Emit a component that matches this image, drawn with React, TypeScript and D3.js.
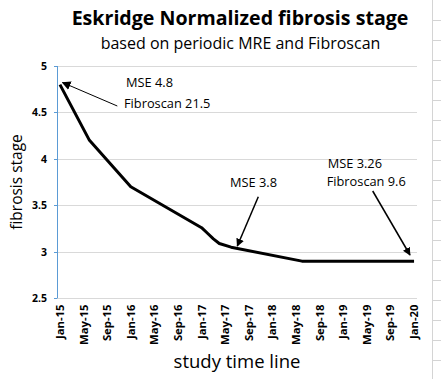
import React from "react";
import * as d3 from "d3";

const months = ["2015-01", "2015-06", "2016-01", "2017-01", "2017-02", "2017-03", "2017-04", "2017-06", "2018-06", "2020-01"];
const values = [4.8, 4.2, 3.7, 3.26, 3.2, 3.14, 3.09, 3.05, 2.9, 2.9];
const yTicks = [2.5, 3, 3.5, 4, 4.5, 5];
const xTickMonths = d3.range(0, 61, 4);

const title = "Eskridge Normalized fibrosis stage";
const subtitle = "based on periodic MRE and Fibroscan";
const yTitle = "fibrosis stage";
const xTitle = "study time line";

const W = 441, H = 379;
const FONT = "'Open Sans', Lato, sans-serif";

function monthIndex(s: string) {
  const [y, m] = s.split("-").map(Number);
  return (y - 2015) * 12 + (m - 1);
}

export default function App() {
  const plotL = 57, plotR = 417, plotT = 66, plotB = 298.3;
  const x = d3.scaleLinear().domain([-0.5, 60.5]).range([plotL, plotR]);
  const y = d3.scaleLinear().domain([2.5, 5]).range([plotB, plotT]);
  const pts = months.map((m, i) => [x(monthIndex(m)), y(values[i])] as [number, number]);
  const line = d3.line().curve(d3.curveLinear)(pts) || "";
  const fmt = d3.timeFormat("%b-%y");

  const gridY = d3.range(0, 18).map((k) => 20.5 + 20 * k);

  return (
    <svg width={W} height={H} style={{ position: "absolute", left: 0, top: 0, background: "#fff" }} fontFamily={FONT}>
      <defs>
        <marker id="ah2" viewBox="0 0 10 10" refX="9" refY="5" markerWidth="8" markerHeight="8" orient="auto" markerUnits="userSpaceOnUse">
          <path d="M0,0 L10,5 L0,10 z" fill="#000" />
        </marker>
        <marker id="ah1" viewBox="0 0 10 10" refX="9" refY="5" markerWidth="9" markerHeight="9" orient="auto" markerUnits="userSpaceOnUse">
          <path d="M0,0 L10,5 L0,10 z" fill="#000" />
        </marker>
      </defs>
      <rect width={W} height={H} fill="#fff" />
      {/* spreadsheet grid at right */}
      <line x1={432.5} x2={432.5} y1={0} y2={H} stroke="#d4d4d4" />
      {gridY.map((g) => (
        <line key={g} x1={432} x2={W} y1={g} y2={g} stroke="#d4d4d4" />
      ))}
      {/* titles */}
      <text x={240} y={25} textAnchor="middle" fontSize={19.6} fontWeight="bold" fill="#000">{title}</text>
      <text x={240.5} y={49.3} textAnchor="middle" fontSize={16} fill="#000">{subtitle}</text>
      {/* gridlines */}
      {yTicks.map((t) => (
        <line key={t} x1={plotL} x2={plotR} y1={Math.round(y(t)) + 0.5} y2={Math.round(y(t)) + 0.5} stroke="#d9d9d9" />
      ))}
      {/* y axis */}
      <line x1={plotL + 0.5} x2={plotL + 0.5} y1={plotT} y2={plotB} stroke="#5b9bd5" />
      {yTicks.map((t) => (
        <g key={t}>
          <line x1={plotL - 3} x2={plotL} y1={Math.round(y(t)) + 0.5} y2={Math.round(y(t)) + 0.5} stroke="#5b9bd5" />
          <text x={plotL - 10} y={y(t) + 4} textAnchor="end" fontSize={10.5} fontWeight="bold" fill="#000">{t}</text>
        </g>
      ))}
      {/* x tick labels */}
      {xTickMonths.map((m) => {
        const d = new Date(2015, m, 1);
        const tx = x(m) + 4;
        return (
          <text key={m} transform={`translate(${tx},${304.5}) rotate(-90)`} textAnchor="end" fontSize={11.3} fontWeight="bold" fill="#000">{fmt(d)}</text>
        );
      })}
      {/* axis titles */}
      <text transform={`translate(22,182) rotate(-90)`} textAnchor="middle" fontSize={15.5} fill="#000">{yTitle}</text>
      <text x={237} y={368} textAnchor="middle" fontSize={18.5} fill="#000">{xTitle}</text>
      {/* data line */}
      <path d={line} fill="none" stroke="#000" strokeWidth={3} strokeLinejoin="round" />
      {/* annotations */}
      <text x={126} y={87.3} fontSize={12.8} fill="#000">MSE 4.8</text>
      <text x={124} y={107.7} fontSize={12.8} fill="#000">Fibroscan 21.5</text>
      <line x1={117.3} y1={106} x2={62.5} y2={82.5} stroke="#000" strokeWidth={1} markerEnd="url(#ah1)" />
      <text x={230} y={187.3} fontSize={12.8} fill="#000">MSE 3.8</text>
      <line x1={258.3} y1={196.7} x2={237.3} y2={246} stroke="#000" strokeWidth={1.5} markerEnd="url(#ah2)" />
      <text x={327.7} y={168.3} fontSize={12.8} fill="#000">MSE 3.26</text>
      <text x={326.7} y={186} fontSize={12.8} fill="#000">Fibroscan 9.6</text>
      <line x1={372.7} y1={191} x2={410} y2={255} stroke="#000" strokeWidth={1.5} markerEnd="url(#ah2)" />
    </svg>
  );
}
